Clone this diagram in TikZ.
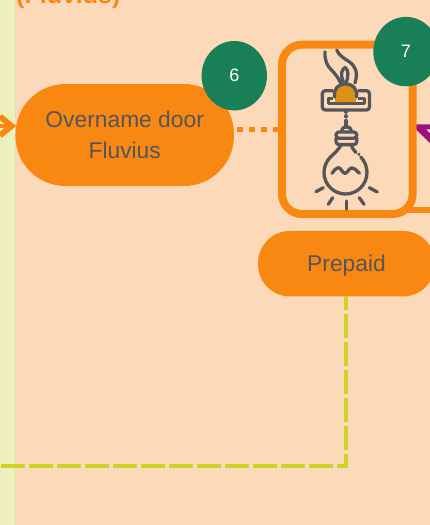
\documentclass[tikz,border=0pt]{standalone}
\usepackage{fontspec}
\setmainfont{Liberation Sans}
\usetikzlibrary{shapes.geometric,calc}
\definecolor{bgpeach}{HTML}{FCDAB9}
\definecolor{bgstrip}{HTML}{EBF0BD}
\definecolor{stripedge}{HTML}{F0DCA0}
\definecolor{fluorange}{HTML}{F98813}
\definecolor{badgegreen}{HTML}{197F57}
\definecolor{inkgrey}{HTML}{54565A}
\definecolor{dashyellow}{HTML}{CFD325}
\definecolor{arrowpurple}{HTML}{9B0F7F}
\definecolor{coinfill}{HTML}{DE8F16}
\tikzset{
  pill/.style={fill=fluorange,text=inkgrey,align=center,font=\fontsize{22.8}{31}\selectfont,outer sep=0pt,inner sep=0pt},
  badge/.style={ellipse,fill=badgegreen,text=white,font=\fontsize{18}{20}\selectfont,minimum width=65.4pt,minimum height=69.4pt,inner sep=0pt,outer sep=0pt},
  iconframe/.style={draw=fluorange,line width=8pt,rounded corners=20pt,minimum width=130.7pt,minimum height=169.3pt,outer sep=0pt,inner sep=0pt},
  dotlink/.style={draw=fluorange,line width=5.6pt,dash pattern=on 6pt off 6pt},
  yellowlink/.style={draw=dashyellow,line width=4pt,dash pattern=on 24pt off 4pt},
  icon/.style={draw=inkgrey,line width=3.3pt,line cap=round,line join=round},
}
\begin{document}
\begin{tikzpicture}[x=1pt,y=-1pt]
\clip (0,0) rectangle (430,525);
\fill[bgpeach] (0,0) rectangle (430,525);
\fill[bgstrip] (0,0) rectangle (15.5,525);
\draw[stripedge,line width=0.8pt] (15.3,0) -- (15.3,525);

% title fragment
\node[anchor=base west,inner sep=0pt,text=fluorange,font=\fontsize{25}{28}\selectfont\bfseries] (title) at (16,3.5) {(Fluvius)};

% nodes
\node[pill,rounded corners=50pt,minimum width=218.5pt,minimum height=102pt] (overname) at (124.7,135) {Overname door\\Fluvius};
\node[pill,rounded corners=32pt,minimum width=177pt,minimum height=65.5pt] (prepaid) at (346.5,263.7) {\raisebox{-1.5pt}[\height][\depth]{Prepaid}};

% connectors behind the frame
\coordinate (incoming) at (0,126);
\coordinate (bottomout) at (430,210);
\coordinate (corner) at (346,465.5);
\coordinate (leftend) at (1,465.5);
\draw[yellowlink,dash phase=10pt] (prepaid.south -| corner) -- ($(corner)+(0,2)$);
\draw[yellowlink] (leftend) -- ($(corner)+(2,0)$);

\fill[arrowpurple] (416,124.3) -- (430,124.3) -- (430,129.3) -- (426,129.3) -- (430,133.5) -- (430,143) -- (416,129.5) -- cycle;
\draw[fluorange,line width=5.5pt] (405,210) -- (bottomout);

\node[iconframe] (iconbox) at (347.35,129.35) {};
\draw[dotlink,dash phase=9pt] (overname.east |- iconbox.west) -- (iconbox.west);

% incoming arrow
\draw[fluorange,line width=4pt] (incoming) -- (11,126);
\draw[fluorange,line width=6pt,miter limit=10] (0,116.5) -- (11.4,126) -- (0,135.5);

% hand
\draw[icon] (325,51.7) .. controls (324.5,60) and (327,65.5) .. (331,69.5) .. controls (335,73.5) and (338.5,78) .. (340.7,83);
\draw[icon] (336.7,50) .. controls (338.5,55) and (344,58.5) .. (349,61.5) .. controls (355,65.5) and (358.5,72) .. (355,83);
\draw[icon] (343.3,81.7) .. controls (340.5,76) and (341,69.5) .. (345,67.5) .. controls (349,70) and (348.5,77) .. (346,83.3);
% slot
\draw[icon,rounded corners=3pt] (322.3,90.7) rectangle (369.5,110);
\draw[icon] (328.5,98.5) -- (328.5,103.3) -- (364.7,103.3) -- (364.7,98.5) -- (357,98.5);
\draw[icon] (328.5,98.5) -- (333.5,98.5);
% coin
\fill[bgpeach] (333,88.5) rectangle (358,101.5);
\fill[coinfill] (335.5,102) .. controls (331.5,90) and (338,84) .. (345.5,84) .. controls (353,84) and (359.5,90) .. (355.5,102) -- cycle;
\draw[icon] (334.7,97) .. controls (333,88.5) and (339,83.8) .. (345.5,83.8) .. controls (352,83.8) and (358,88.5) .. (356.5,97);
% cord
\draw[icon] (346,111.8) -- (346,112.2);
\draw[icon] (346,115.8) -- (346,116.8);
\draw[icon] (346,120.5) -- (346,127);
% socket
\draw[icon] (341.7,131.5) .. controls (342,128) and (344,126.7) .. (346.5,126.7) .. controls (349,126.7) and (351,128) .. (351.3,131.5);
\draw[icon,rounded corners=3pt] (336,132) -- (356.8,132) -- (356.8,138.2) -- (336,138.2) -- cycle;
\draw[icon,rounded corners=3pt] (336,138.2) -- (336,144.6) -- (356.8,144.6) -- (356.8,138.2);
% bulb
\draw[icon] (341,145.2) .. controls (338,150.5) and (333.5,154) .. (330,157.5) .. controls (326.3,161.5) and (324,167) .. (324,172.5) .. controls (324,184.4) and (333.6,194) .. (345.5,194) .. controls (357.4,194) and (367,184.4) .. (367,172.5) .. controls (367,166.5) and (364.5,161) .. (360.8,157);
\draw[icon] (351.5,145.2) .. controls (352.5,149) and (354.5,151) .. (356,152.5);
\draw[icon] (358.8,154.3) -- (359,154.5);
\draw[icon] (332,173.3) .. controls (334,170.5) and (336,167.7) .. (338.3,167.7) .. controls (341,167.7) and (342.5,173.3) .. (345,173.3) .. controls (347.5,173.3) and (349,168) .. (351.7,168) .. controls (354.5,168) and (357,171) .. (359.5,173.3);
% rays
\draw[icon] (316,191.7) -- (323.3,187.7);
\draw[icon] (328.3,204.3) -- (332.7,197.7);
\draw[icon] (346.3,201) -- (346.3,209.3);
\draw[icon] (359.3,197.7) -- (364,204.3);
\draw[icon] (369.3,187.7) -- (377.3,192);

% badges
\node[badge] (six) at (234.3,75.7) {6};
\node[badge] (seven) at (406,51.6) {7};
\end{tikzpicture}
\end{document}
